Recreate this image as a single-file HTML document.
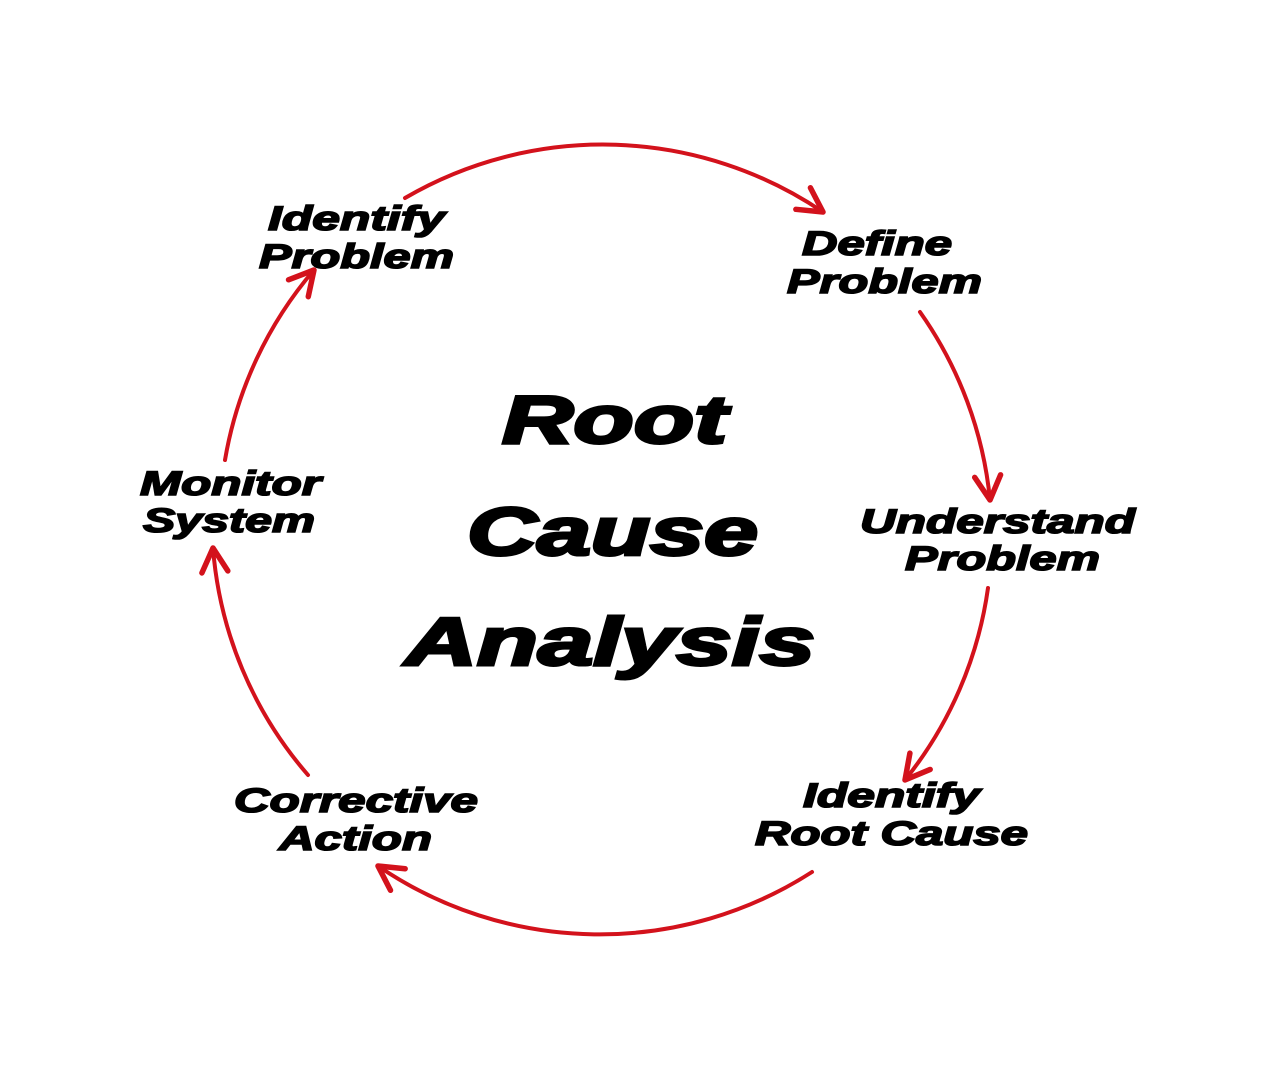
<!DOCTYPE html>
<html><head><meta charset="utf-8"><style>
html,body{margin:0;padding:0;background:#fff;}
svg{display:block;}
text{font-family:"Liberation Sans",Arial,sans-serif;font-weight:bold;font-style:italic;fill:#000;stroke:#000;}
</style></head><body>
<svg width="1276" height="1077" viewBox="0 0 1276 1077" xmlns="http://www.w3.org/2000/svg">
<defs>
<marker id="ah" viewBox="-30 -20 34 40" refX="0" refY="0" markerWidth="34" markerHeight="40" markerUnits="userSpaceOnUse" orient="auto">
<path d="M-24,-13 L0,0 L-24,13" fill="none" stroke="#d3121c" stroke-width="5.5" stroke-linecap="round" stroke-linejoin="round"/>
</marker>
</defs>
<g fill="none" stroke="#d3121c" stroke-width="4" stroke-linecap="round" marker-end="url(#ah)">
<path d="M405,198 A393,393 0 0 1 823,212"/>
<path d="M920,312 A393,393 0 0 1 990,500"/>
<path d="M988,588 A393,393 0 0 1 905,780"/>
<path d="M812,872 A393,393 0 0 1 378,866"/>
<path d="M308,775 A393,393 0 0 1 213,548"/>
<path d="M225,460 A393,393 0 0 1 314,270"/>
</g>
<g font-size="34" stroke-width="1.6">
<text x="268" y="230" textLength="177" lengthAdjust="spacingAndGlyphs">Identify</text>
<text x="259" y="268" textLength="195" lengthAdjust="spacingAndGlyphs">Problem</text>
<text x="802" y="255" textLength="150" lengthAdjust="spacingAndGlyphs">Define</text>
<text x="787" y="293" textLength="195" lengthAdjust="spacingAndGlyphs">Problem</text>
<text x="860" y="533" textLength="275" lengthAdjust="spacingAndGlyphs">Understand</text>
<text x="905" y="570" textLength="195" lengthAdjust="spacingAndGlyphs">Problem</text>
<text x="803" y="807" textLength="177" lengthAdjust="spacingAndGlyphs">Identify</text>
<text x="755" y="845" textLength="273" lengthAdjust="spacingAndGlyphs">Root Cause</text>
<text x="234" y="812" textLength="244" lengthAdjust="spacingAndGlyphs">Corrective</text>
<text x="279" y="850" textLength="153" lengthAdjust="spacingAndGlyphs">Action</text>
<text x="140" y="495" textLength="181" lengthAdjust="spacingAndGlyphs">Monitor</text>
<text x="143" y="532" textLength="172" lengthAdjust="spacingAndGlyphs">System</text>
</g>
<g font-size="68" stroke-width="3">
<text x="502" y="443" textLength="225" lengthAdjust="spacingAndGlyphs">Root</text>
<text x="467" y="555" textLength="291" lengthAdjust="spacingAndGlyphs">Cause</text>
<text x="405" y="665" textLength="410" lengthAdjust="spacingAndGlyphs">Analysis</text>
</g>
</svg>
</body></html>
